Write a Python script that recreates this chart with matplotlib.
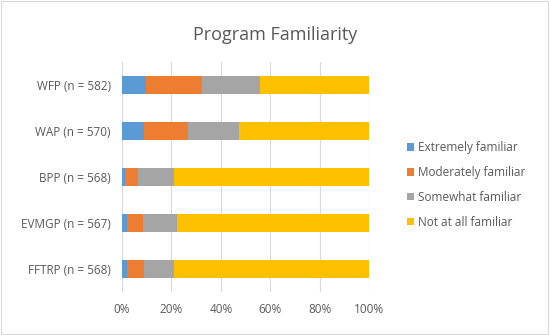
import matplotlib
matplotlib.use("Agg")
import matplotlib.pyplot as plt
from matplotlib.patches import Rectangle

# data (percent of respondents)
programs = ["WFP (n = 582)", "WAP (n = 570)", "BPP (n = 568)", "EVMGP (n = 567)", "FFTRP (n = 568)"]
extremely = [9.7, 8.9, 1.4, 2.0, 1.9]
moderately = [22.6, 17.8, 5.1, 6.6, 7.1]
somewhat = [23.4, 20.8, 14.4, 13.7, 11.9]
not_at_all = [44.3, 52.5, 79.1, 77.7, 79.1]
levels = ["Extremely familiar", "Moderately familiar", "Somewhat familiar", "Not at all familiar"]
colours = ["#5B9BD5", "#ED7D31", "#A5A5A5", "#FFC000"]

TXT = "#595959"
plt.rcParams['font.family'] = ['Open Sans', 'DejaVu Sans']

fig = plt.figure(figsize=(5.5, 3.35), dpi=100)
ax = fig.add_axes([0.2218, 0.1293, 0.4496, 0.6856])

ypos = list(range(len(programs)))
left = [0.0] * len(programs)
for vals, name, col in zip([extremely, moderately, somewhat, not_at_all], levels, colours):
    ax.barh(ypos, vals, left=left, height=0.4, color=col, label=name, zorder=3)
    left = [a + b for a, b in zip(left, vals)]

ax.set_xlim(0, 100)
ax.set_ylim(len(programs) - 0.5, -0.5)
ax.set_yticks(ypos)
ax.set_yticklabels(programs)
ax.set_xticks(range(0, 101, 20))
ax.set_xticklabels([str(v) + "%" for v in range(0, 101, 20)])
ax.grid(axis="x", color="#D9D9D9", linewidth=0.8, zorder=0)
for s in ax.spines.values():
    s.set_visible(False)
ax.tick_params(length=0, colors=TXT, labelsize=8.5)
ax.tick_params(axis="y", pad=8)
ax.tick_params(axis="x", pad=8)

fig.text(0.5, 0.895, "Program Familiarity", ha="center", va="center", fontsize=13, color=TXT)

leg = fig.legend(loc="center left", bbox_to_anchor=(0.72, 0.448), frameon=False,
                 fontsize=8.5, handlelength=0.6, handleheight=0.6, handletextpad=0.4,
                 labelspacing=1.0, labelcolor=TXT)

fig.patches.append(Rectangle((0.002, 0.003), 0.995, 0.993, transform=fig.transFigure,
                             fill=False, edgecolor="#D9D9D9", linewidth=0.8))

fig.savefig("out.png", dpi=100)
